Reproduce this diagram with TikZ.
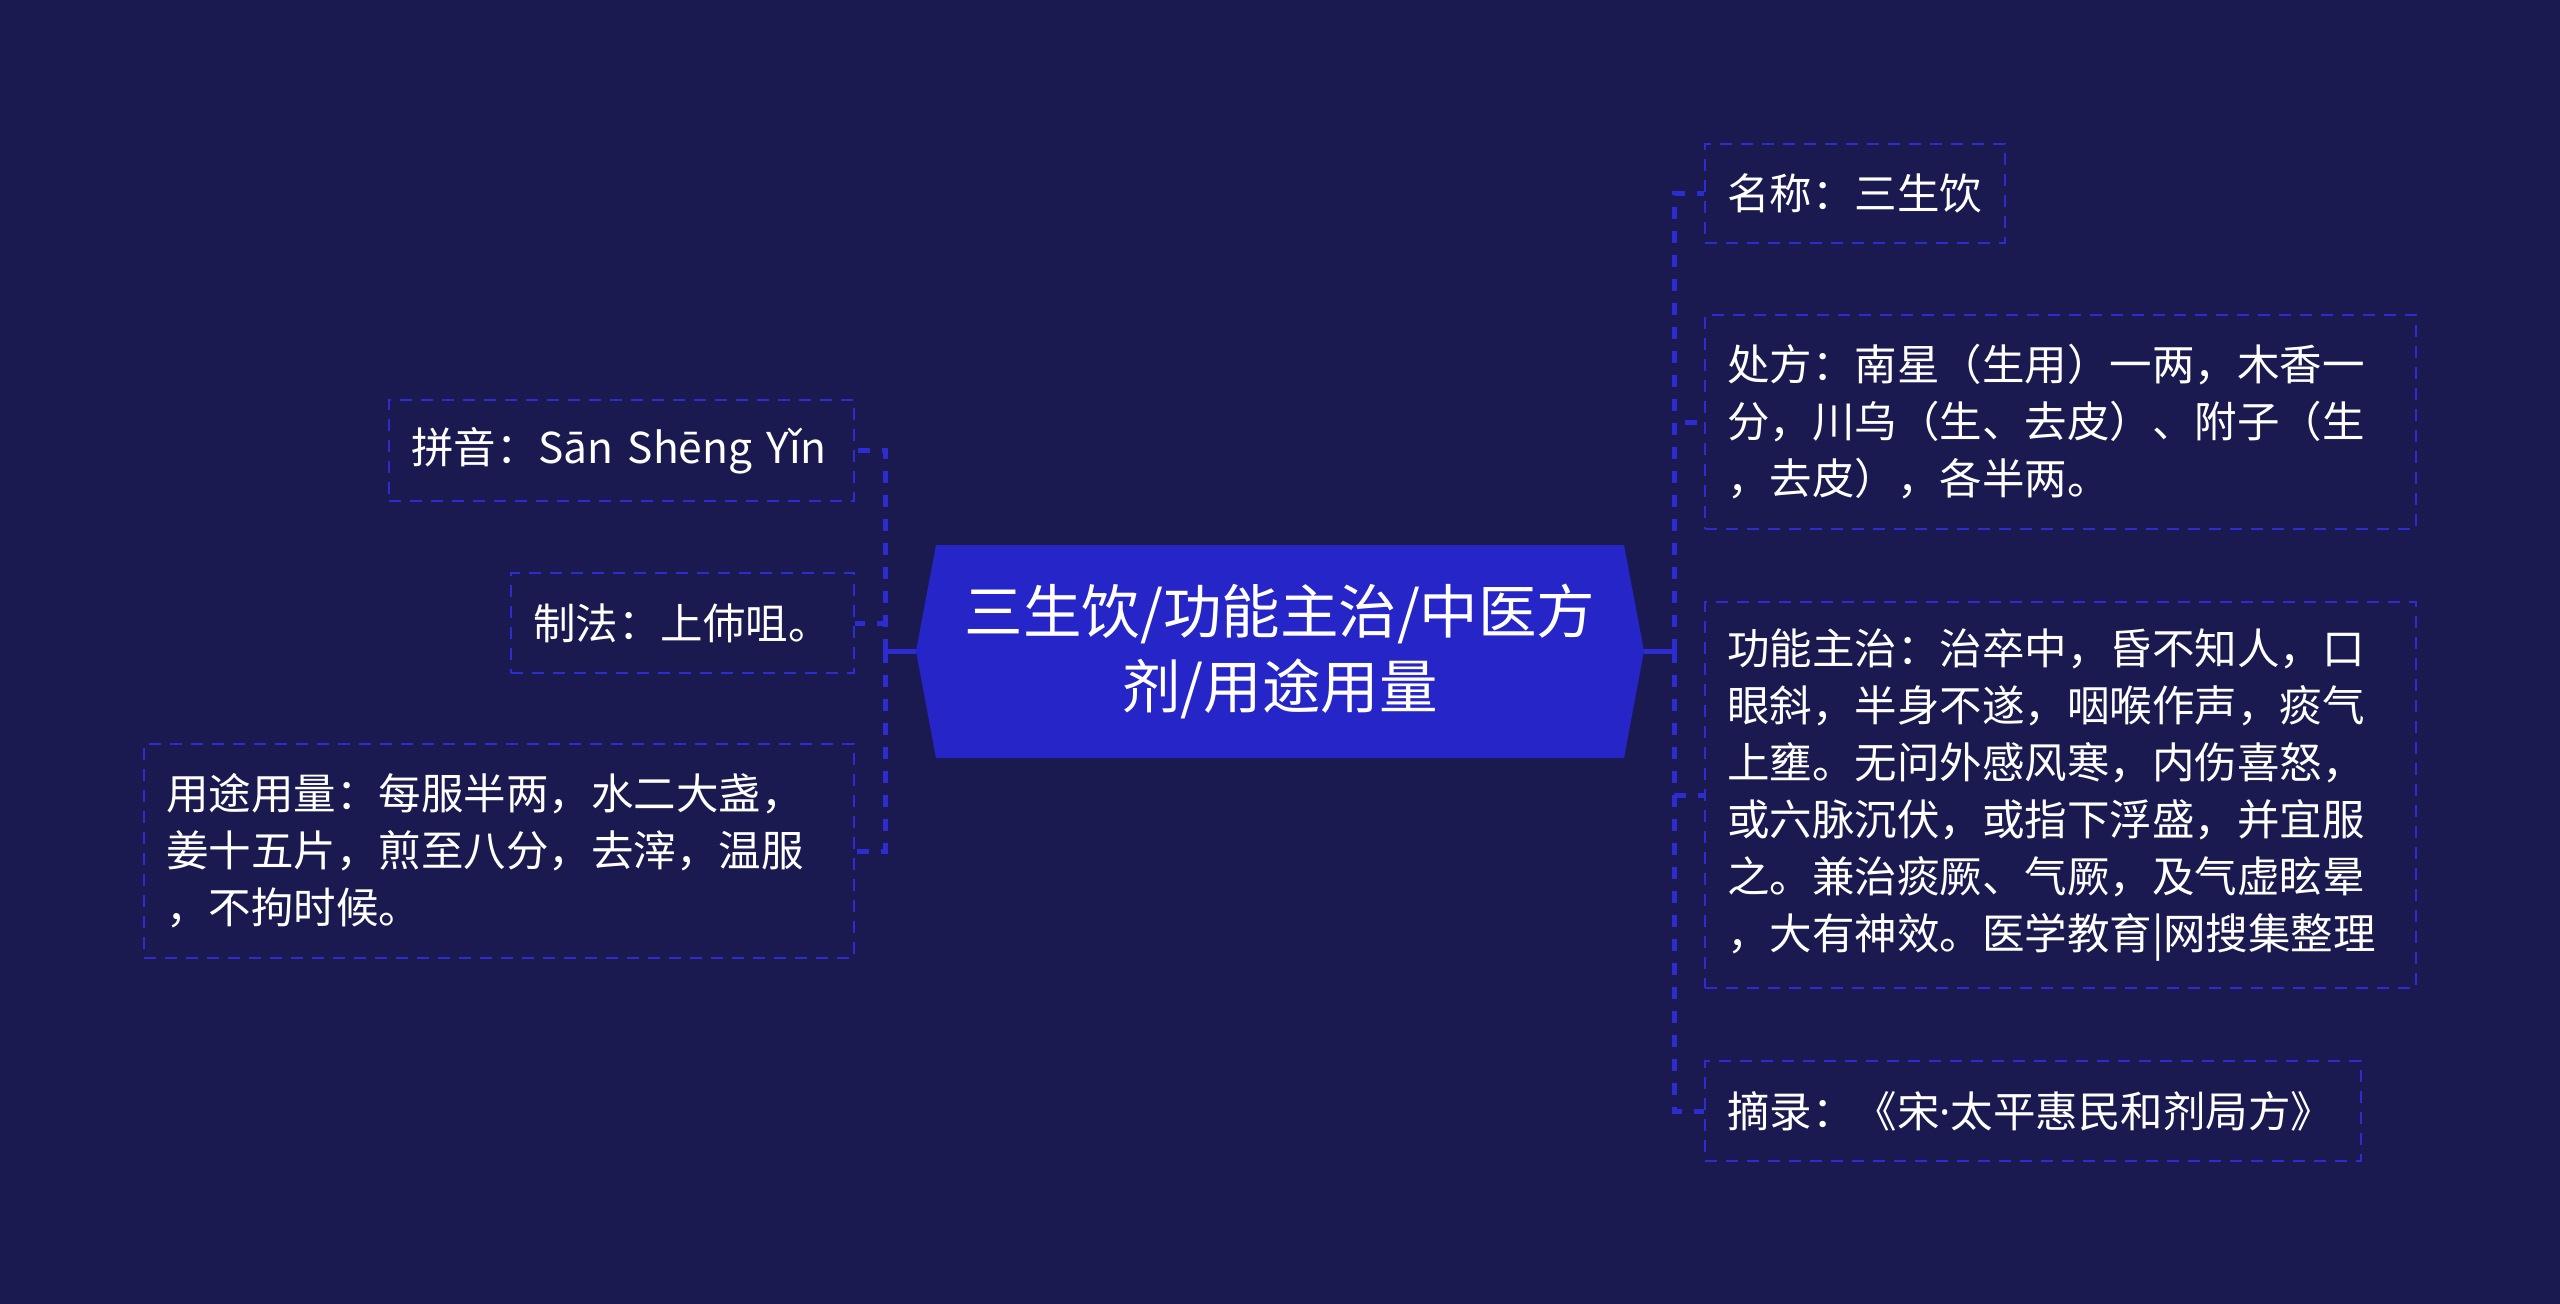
\documentclass[tikz,border=0pt]{standalone}
\usepackage{fontspec}
\setmainfont{Noto Sans CJK SC}
\newfontfamily\latinfont{Noto Sans}
\definecolor{bg}{RGB}{26,26,80}
\definecolor{hexfill}{RGB}{38,38,200}
\definecolor{lineblue}{RGB}{44,44,208}
\tikzset{
  leaf/.style={draw=lineblue, line width=2.5pt, dash pattern=on 12pt off 9pt,
    text=white, inner xsep=22pt, inner ysep=0pt, align=left,
    font=\fontsize{42.5}{57}\selectfont},
  conn/.style={draw=lineblue, line width=5pt, dash pattern=on 12pt off 12pt},
  solidconn/.style={draw=lineblue, line width=5pt},
  centertext/.style={text=white, align=center, font=\fontsize{58.5}{75}\selectfont}
}
\begin{document}
\begin{tikzpicture}[x=1pt,y=-1pt]
\fill[bg] (0,0) rectangle (2560,1304);
\useasboundingbox (0,0) rectangle (2560,1304);
% central hexagon
\fill[hexfill] (916,651) -- (936,545) -- (1624,545) -- (1644,651) -- (1624,758) -- (936,758) -- cycle;
\coordinate (hl) at (916,651);
\coordinate (hr) at (1644,651);
\node[centertext] (c) at (1280,651) {三生饮/功能主治/中医方\\剂/用途用量};
% left leaves
\node[leaf, text width=421pt, minimum height=101pt] (py) at (621.5,450.5) {拼音：Sān Shēng Yǐn};
\node[leaf, text width=299pt, minimum height=100pt] (zf) at (682.5,623) {制法：上伂咀。};
\node[leaf, text width=666pt, minimum height=214pt] (yt) at (499,851) {用途用量：每服半两，水二大盏，\\姜十五片，煎至八分，去滓，温服\\，不拘时候。};
% right leaves
\node[leaf, text width=256pt, minimum height=99pt] (mc) at (1855,193.5) {名称：三生饮};
\node[leaf, text width=667pt, minimum height=214pt] (cf) at (2060.5,422) {处方：南星（生用）一两，木香一\\分，川乌（生、去皮）、附子（生\\，去皮），各半两。};
\node[leaf, text width=667pt, minimum height=386pt] (gn) at (2060.5,795) {功能主治：治卒中，昏不知人，口\\眼斜，半身不遂，咽喉作声，痰气\\上壅。无问外感风寒，内伤喜怒，\\或六脉沉伏，或指下浮盛，并宜服\\之。兼治痰厥、气厥，及气虚眩晕\\，大有神效。医学教育|网搜集整理};
\node[leaf, text width=612pt, minimum height=100pt] (zl) at (2033,1111) {摘录：《宋{\latinfont ·}太平惠民和剂局方》};
% connectors
\draw[solidconn] (hl) -- (885,651) coordinate (lj);
\draw[solidconn] (hr) -- (1674,651) coordinate (rj);
\draw[conn] (lj) |- (py.east);
\draw[conn] (lj) |- (zf.east);
\draw[conn] (lj) |- (yt.east);
\draw[conn] (rj) |- (mc.west);
\draw[conn] (rj) |- (cf.west);
\draw[conn] (rj) |- (gn.west);
\draw[conn] (rj) |- (zl.west);
\end{tikzpicture}
\end{document}
